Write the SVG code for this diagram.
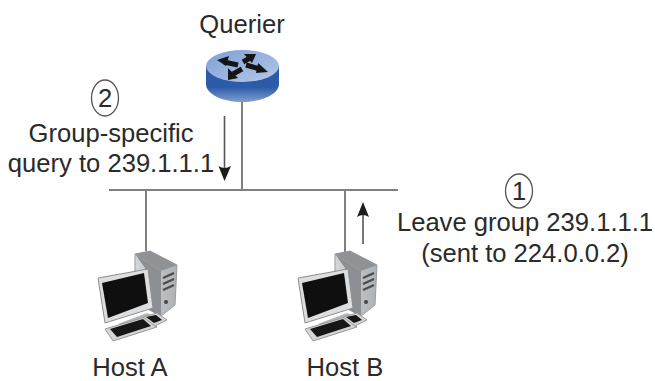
<svg xmlns="http://www.w3.org/2000/svg" width="655" height="381" viewBox="0 0 655 381">
<style>
text{font-family:"Liberation Sans",Arial,sans-serif;font-size:25.6px;fill:#2a2a2a;text-anchor:middle}
.l{stroke:#7f7f7f;stroke-width:2;fill:none}
.a{stroke:#555;stroke-width:1.6;fill:none}
.k{fill:#161616}
.ra{stroke:#151515;stroke-width:5;fill:none}
.c{fill:#fff;stroke:#555;stroke-width:1.300}
</style>
<defs>
<linearGradient id="rs" x1="0" x2="0" y1="0" y2="1"><stop offset="0" stop-color="#2c5aa6"/><stop offset=".6" stop-color="#2d5ba8"/><stop offset="1" stop-color="#7f9fd0"/></linearGradient>
<linearGradient id="rt" x1="0" x2="1" y1="0" y2="1"><stop offset="0" stop-color="#7f9fd6"/><stop offset="1" stop-color="#b4c8e8"/></linearGradient>
<linearGradient id="tw" x1="0" x2="1" y1="0" y2="0"><stop offset="0" stop-color="#d4d6d8"/><stop offset="1" stop-color="#aeb1b4"/></linearGradient>
<g id="pc">
<path d="M50 14 L65 11 L92 25 L90 65 L76 76 L50 62Z" fill="url(#tw)" stroke="#999c9f"/>
<path d="M50 14 L65 11 L92 25 L76 31Z" fill="#8f9396"/>
<path d="M50 14 L76 31 L76 76 L60 68 L60 28Z" fill="#8c9094"/>
<path d="M78 38 L89 33 M78 44 L89 39 M78 50 L89 45" stroke="#4a4c4e" stroke-width="2.4"/>
<circle cx="81" cy="62" r="2" fill="#444"/>
<path d="M13 38 L63 29 L68 68 L20 83 Z" fill="#dcdee0" stroke="#8d8f91"/>
<path d="M17 43 L59 33 L63 63 L23 78 Z" fill="#0f0f0f"/>
<path d="M33 84 L62 73 L70 76 L42 87Z" fill="#b5b7b9"/>
<path d="M20 89 L60 77 L72 87 L28 101 Z" fill="#d2d4d6" stroke="#999"/>
<path d="M25 89 L58 79 L66 86 L32 97 Z" class="k"/>
<path d="M58 77 L72 73 L82 80 L70 86 Z" fill="#d2d4d6" stroke="#999"/>
<path d="M61 77 L71 75 L77 80 L69 83 Z" class="k"/>
</g>
</defs>
<g id="connectors">
<path class="l" d="M109 190H398M242 96V190M146 190V251M345 190V252"/>
<path class="a" d="M224.500 116V172"/><path d="M218.500 166Q224.500 170 231 166L224.500 181Z" fill="#1c1c1c"/>
<path class="a" d="M363 244V212"/><path d="M357 217Q363 213 369 217L363 202Z" fill="#1c1c1c"/>
</g>
<g id="querier">
<path d="M206 65V84C206 94 222 102 242 102S279 94 279 84V65Z" fill="url(#rs)"/>
<ellipse cx="242.500" cy="66" rx="36.500" ry="16" fill="url(#rt)"/>
<g fill="#151515">
<path class="ra" d="M224 62L238 65M250 58L243 62M233 74L242 69M260 69L246 65"/>
<path d="M217 60L229 56L226 66Z"/>
<path d="M256 54L244 54L252 63Z"/>
<path d="M228 80L228 68L238 78Z"/>
<path d="M268 72L258 63L256 73Z"/>
</g>
<text x="242" y="33">Querier</text>
</g>
<g id="host-a"><use href="#pc" x="85" y="240"/><text x="130" y="375.500">Host A</text></g>
<g id="host-b"><use href="#pc" x="285" y="240"/><text x="345" y="375.500">Host B</text></g>
<g id="label-2">
<ellipse class="c" cx="105" cy="98" rx="13.500" ry="18"/>
<text x="105" y="107">2</text>
<text x="111" y="142">Group-specific</text>
<text x="111" y="172">query to 239.1.1.1</text>
</g>
<g id="label-1">
<ellipse class="c" cx="519" cy="191" rx="13.500" ry="17"/>
<text x="519" y="200">1</text>
<text x="525" y="231">Leave group 239.1.1.1</text>
<text x="525" y="262">(sent to 224.0.0.2)</text>
</g>
</svg>
